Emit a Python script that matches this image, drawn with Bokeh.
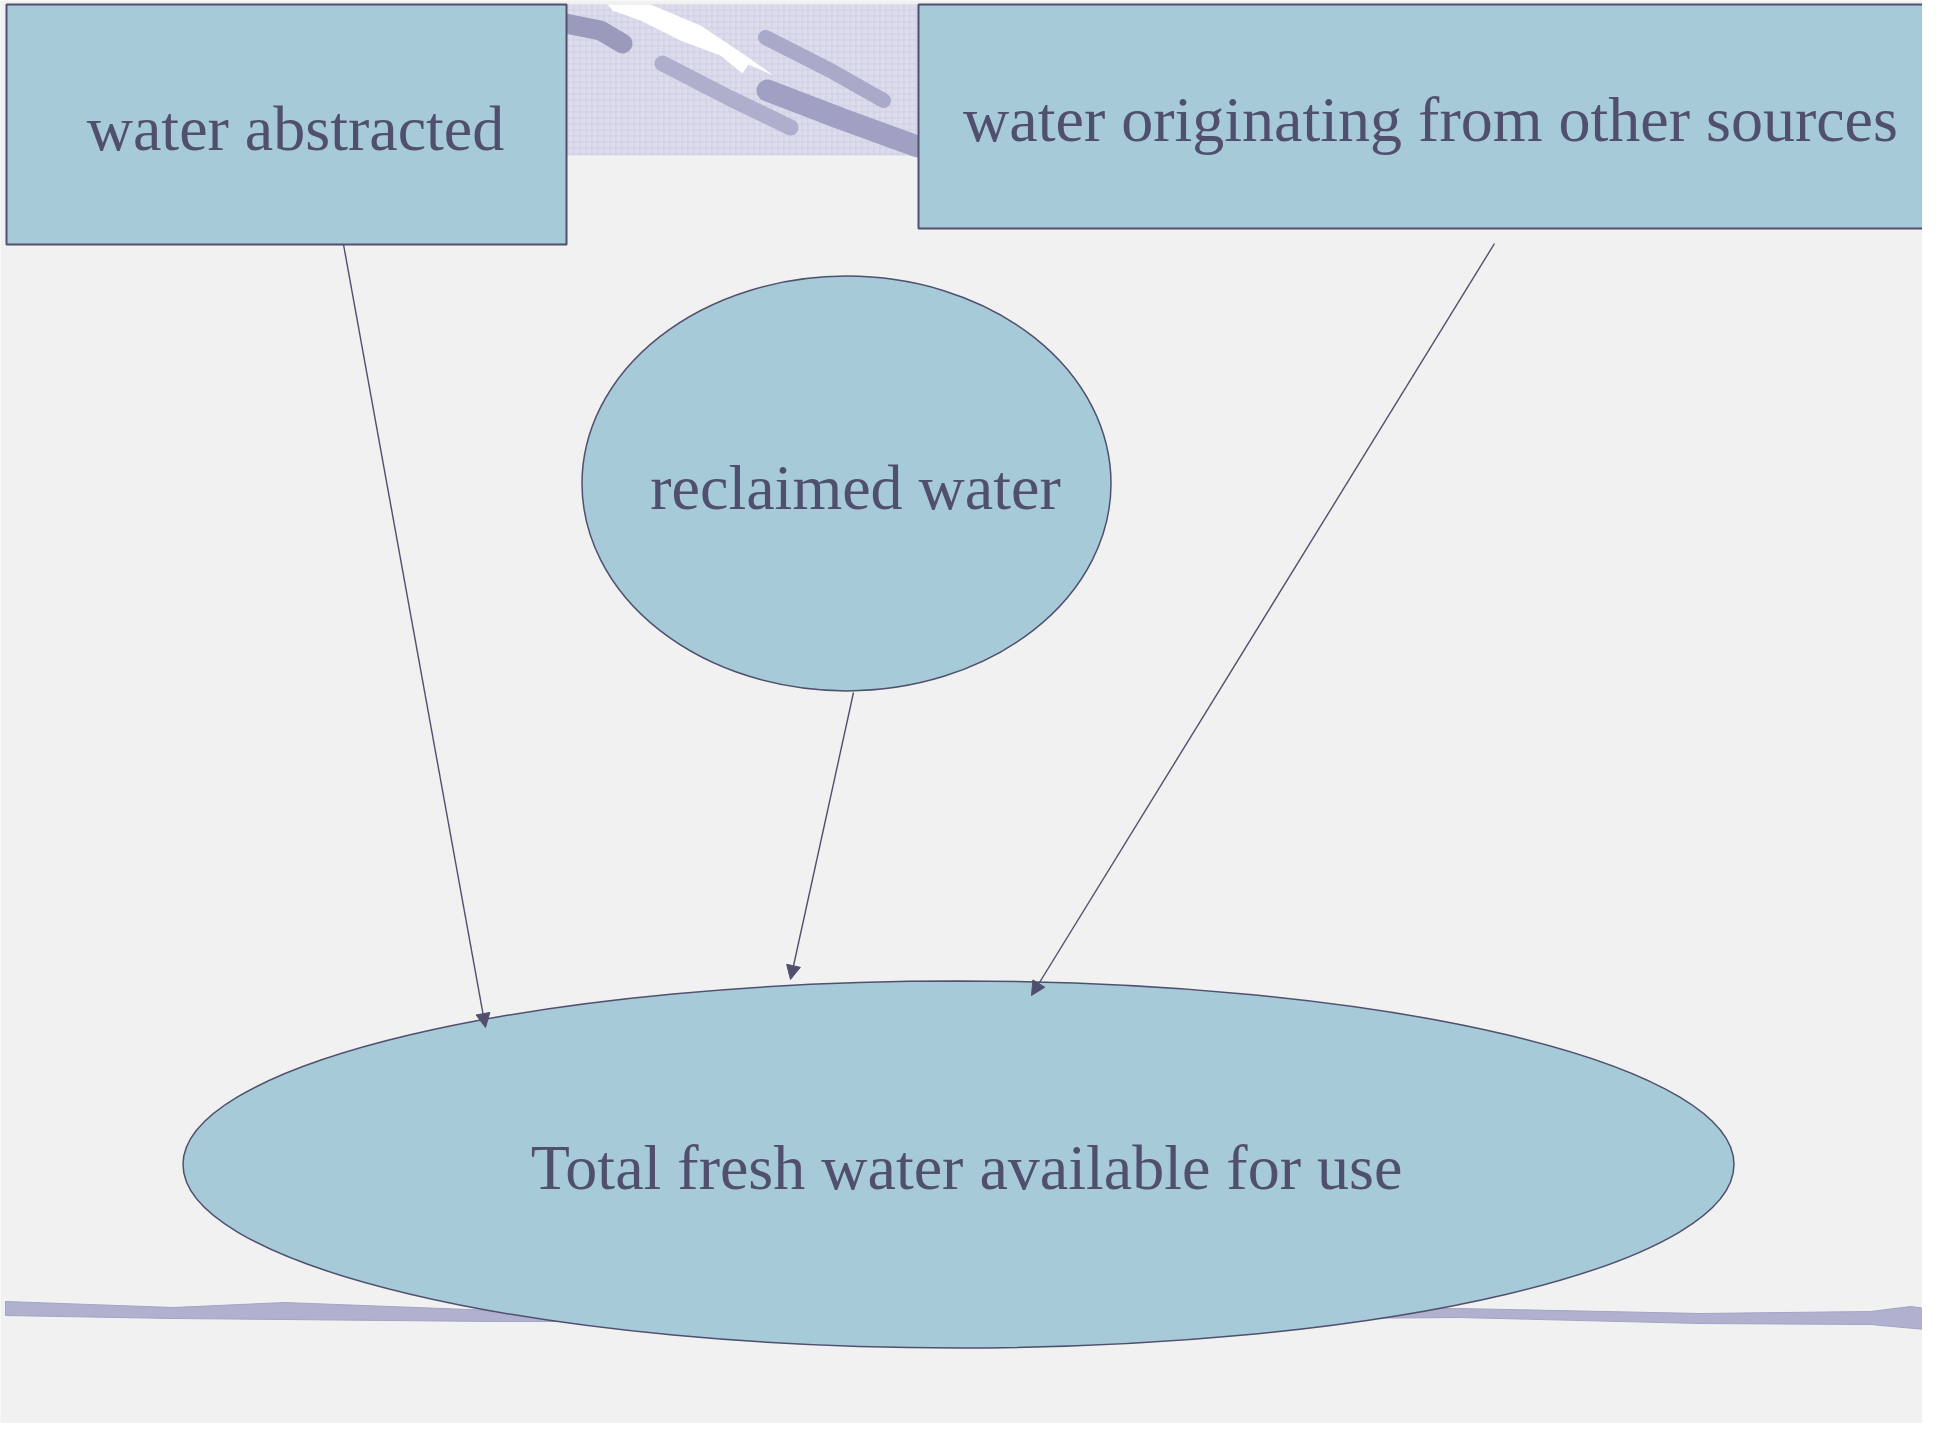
from bokeh.plotting import figure
from bokeh.models import Range1d, Arrow, NormalHead, ColumnDataSource
from bokeh.core.properties import value
from bokeh.embed import file_html
from bokeh.resources import INLINE

# ---- diagram content (pixel coordinates of the slide, y downwards) ----
box_labels = ["water abstracted", "water originating from other sources"]
box_left = [6, 918]
box_right = [566, 1925]
box_top = [4, 4]
box_bottom = [244, 228]
box_text_x = [295, 1430]
box_text_y = [128, 119]

ell_labels = ["reclaimed water", "Total fresh water available for use"]
ell_x = [846, 958]
ell_y = [483, 1164]
ell_w = [529, 1551]
ell_h = [415, 367]
ell_text_x = [855, 966]
ell_text_y = [487, 1167]

arrow_x0 = [343, 853, 1494]
arrow_y0 = [244, 692, 243]
arrow_x1 = [485, 790, 1031]
arrow_y1 = [1027, 979, 995]

# decorative header strip and strokes
strip_x = [566, 918]
strip_y = [4, 155]
stroke_xs = [[560, 600, 622], [662, 730, 790], [765, 830, 883], [767, 840, 917]]
stroke_ys = [[22, 30, 43], [63, 98, 127], [37, 70, 100], [90, 118, 146]]
stroke_w = [20, 16, 15, 22]
stroke_c = ["#9a9abd", "#aeaecd", "#a9a9c9", "#a0a0c2"]
streak_x = [607, 650, 700, 745, 773, 748, 742, 720, 680, 640, 612]
streak_y = [4, 4, 25, 55, 75, 64, 73, 55, 40, 20, 10]

# bottom wavy band
band_x = [5, 173, 284, 494, 960, 1458, 1700, 1870, 1910, 1925, 1925, 1870, 1700, 1458, 960, 494, 284, 173, 5]
band_y = [1301, 1307, 1302, 1310, 1311, 1308, 1313, 1311, 1306, 1308, 1329, 1324, 1323, 1317, 1321, 1321, 1319, 1318, 1315]

FILL = "#a6cad8"
EDGE = "#50506e"
TEXT = "#50506e"
FONT = value("Liberation Serif")

p = figure(width=1922, height=1423, x_range=Range1d(0, 1922), y_range=Range1d(1423, 0),
           output_backend="svg", toolbar_location=None, min_border=0)
p.axis.visible = False
p.grid.visible = False
p.outline_line_color = None
p.background_fill_color = "#f1f1f1"
p.border_fill_color = "white"

# header strip
p.quad(left=[strip_x[0]], right=[strip_x[1]], top=[strip_y[0]], bottom=[strip_y[1]],
       fill_color="#dcdcec", line_color=None, hatch_pattern="+", hatch_color="#cfcfe4",
       hatch_scale=6, hatch_weight=1)
p.patch(streak_x, streak_y, fill_color="white", line_color=None)
p.multi_line(xs=stroke_xs, ys=stroke_ys, line_width=stroke_w, line_color=stroke_c, line_cap="round")

# bottom band
p.patch(band_x, band_y, fill_color="#b0b0cf", line_color="#a4a4c4", line_width=1)

# boxes
bsrc = ColumnDataSource(dict(left=box_left, right=box_right, top=box_top, bottom=box_bottom,
                             tx=box_text_x, ty=box_text_y, label=box_labels))
p.quad(left="left", right="right", top="top", bottom="bottom", source=bsrc,
       fill_color=FILL, line_color=EDGE, line_width=2)
p.text(x="tx", y="ty", text="label", source=bsrc, text_font=FONT, text_font_size="64px",
       text_color=TEXT, text_align="center", text_baseline="alphabetic")

# ellipses
esrc = ColumnDataSource(dict(x=ell_x, y=ell_y, w=ell_w, h=ell_h,
                             tx=ell_text_x, ty=ell_text_y, label=ell_labels))
p.ellipse(x="x", y="y", width="w", height="h", source=esrc,
          fill_color=FILL, line_color=EDGE, line_width=1.5)
p.text(x="tx", y="ty", text="label", source=esrc, text_font=FONT, text_font_size="64px",
       text_color=TEXT, text_align="center", text_baseline="alphabetic")

# arrows
for x0, y0, x1, y1 in zip(arrow_x0, arrow_y0, arrow_x1, arrow_y1):
    p.add_layout(Arrow(end=NormalHead(size=14, fill_color=EDGE, line_color=EDGE, line_width=1),
                       x_start=x0, y_start=y0, x_end=x1, y_end=y1,
                       line_color=EDGE, line_width=1.4))

open("out.html", "w").write(file_html(p, INLINE))
